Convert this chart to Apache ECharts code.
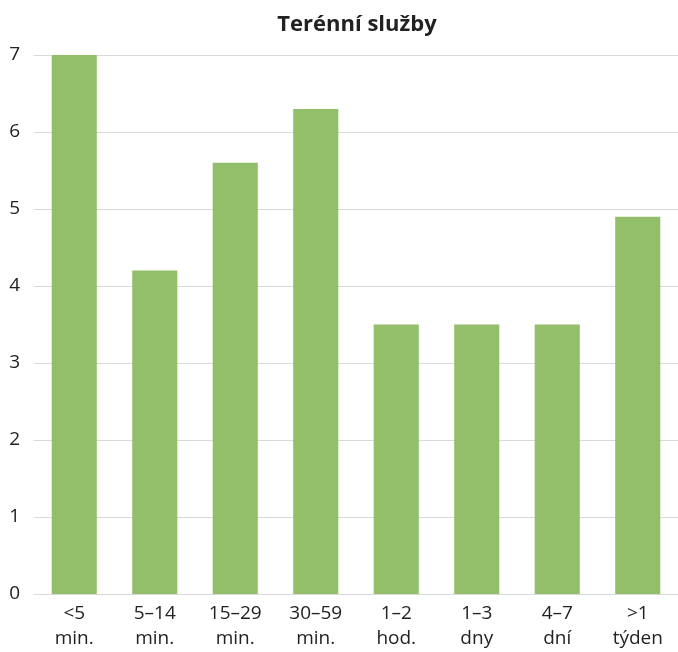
<!DOCTYPE html>
<html>
<head>
<meta charset="utf-8">
<script src="https://cdn.jsdelivr.net/npm/echarts@6/dist/echarts.min.js"></script>
<style>
  html, body { margin: 0; padding: 0; background: #fff; }
  #chart { width: 678px; height: 652px; }
</style>
</head>
<body>
<div id="chart"></div>
<script>
// kategorie a hodnoty
const categories = ['<5\nmin.', '5–14\nmin.', '15–29\nmin.', '30–59\nmin.', '1–2\nhod.', '1–3\ndny', '4–7\ndní', '>1\ntýden']
const values = [7.0, 4.2, 5.6, 6.3, 3.5, 3.5, 3.5, 4.9]
const yTicks = [0, 1, 2, 3, 4, 5, 6, 7]

const chart = echarts.init(document.getElementById('chart'))

chart.setOption({
    animation: false,
    title: {
        text: 'Terénní služby',
        left: 352,
        top: 9,
        textAlign: 'center',
        textStyle: {
            fontFamily: 'Open Sans',
            fontWeight: 'bold',
            fontSize: 22,
            color: '#222'
        }
    },
    grid: {
        left: 34,
        right: 0,
        top: 55,
        bottom: 58
    },
    xAxis: {
        type: 'category',
        data: categories,
        axisTick: { show: false },
        axisLine: { lineStyle: { color: '#d9d9d9', width: 1 } },
        axisLabel: {
            fontFamily: 'Open Sans',
            fontSize: 19,
            color: '#222',
            lineHeight: 25,
            margin: 7,
            interval: 0
        }
    },
    yAxis: {
        type: 'value',
        min: yTicks[0],
        max: yTicks[yTicks.length - 1],
        interval: 1,
        axisLine: { show: false },
        axisTick: { show: false },
        splitLine: { lineStyle: { color: '#d9d9d9', width: 1 } },
        axisLabel: {
            fontFamily: 'Open Sans',
            fontSize: 19,
            color: '#222',
            margin: 14
        }
    },
    series: [{
        type: 'bar',
        data: values,
        barWidth: '56%',
        itemStyle: { color: '#93be6a' }
    }]
})
</script>
</body>
</html>
